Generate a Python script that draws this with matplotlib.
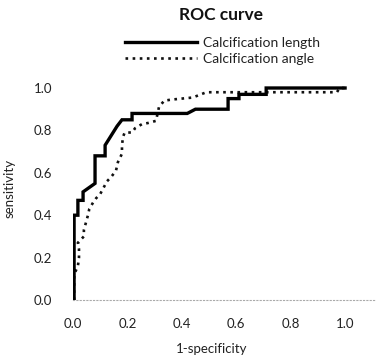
import matplotlib
matplotlib.use("Agg")
import matplotlib.pyplot as plt

plt.rcParams['font.family'] = ['Lato', 'DejaVu Sans']

length_fpr = [0.004, 0.004, 0.018, 0.018, 0.037, 0.037, 0.081, 0.081, 0.118, 0.118,
              0.162, 0.18, 0.217, 0.217, 0.42, 0.45, 0.57, 0.57, 0.61, 0.61,
              0.71, 0.71, 1.0]
length_tpr = [0.0, 0.40, 0.40, 0.47, 0.47, 0.51, 0.55, 0.68, 0.68, 0.73,
              0.82, 0.85, 0.85, 0.88, 0.88, 0.90, 0.90, 0.95, 0.95, 0.97,
              0.97, 1.0, 1.0]

angle_fpr = [0.004, 0.004, 0.018, 0.022, 0.022, 0.018, 0.04, 0.04, 0.055, 0.06, 0.074,
             0.085, 0.10, 0.125, 0.14, 0.158, 0.165, 0.18, 0.18, 0.184, 0.19,
             0.217, 0.228, 0.254, 0.276, 0.305, 0.316, 0.335, 0.36, 0.40, 0.44,
             0.49, 0.57, 0.97, 0.98, 1.0]
angle_tpr = [0.0, 0.12, 0.16, 0.20, 0.24, 0.27, 0.30, 0.33, 0.40, 0.43, 0.46,
             0.48, 0.50, 0.56, 0.58, 0.61, 0.65, 0.69, 0.73, 0.77, 0.79,
             0.79, 0.81, 0.83, 0.835, 0.845, 0.91, 0.94, 0.945, 0.95, 0.955,
             0.98, 0.98, 0.98, 1.0, 1.0]

ticks = [0.0, 0.2, 0.4, 0.6, 0.8, 1.0]
tick_labels = ["0.0", "0.2", "0.4", "0.6", "0.8", "1.0"]

fig = plt.figure(figsize=(3.79, 3.6), dpi=100)
ax = fig.add_axes([73/379, 60/360, 302/379, (300-77.4)/360])

ax.plot(angle_fpr, angle_tpr, color='#111111', lw=1.9, linestyle=(0, (1, 1.7)),
        label='Calcification angle', zorder=2)
ax.plot(length_fpr, length_tpr, color='black', lw=2.4, label='Calcification length',
        zorder=3, solid_joinstyle='miter')

ax.set_xlim(0, 1.11)
ax.set_ylim(0, 1.05)
ax.set_xticks(ticks)
ax.set_xticklabels(tick_labels)
ax.set_yticks(ticks)
ax.set_yticklabels(tick_labels)
ax.tick_params(axis='both', length=0, labelsize=9.5, colors='#222222')
ax.tick_params(axis='y', pad=15)
ax.tick_params(axis='x', pad=13)
for s in ['top', 'right', 'left']:
    ax.spines[s].set_visible(False)
ax.spines['bottom'].set_color('#aaaaaa')
ax.spines['bottom'].set_linewidth(0.8)
ax.spines['bottom'].set_linestyle((0, (1, 2)))

ax.set_xlabel('1-specificity', fontsize=9.5, color='#222222')
ax.xaxis.set_label_coords(0.46, -0.195)
ax.set_ylabel('sensitivity', fontsize=9.5, color='#222222')
ax.yaxis.set_label_coords(-0.19, 0.50)

fig.text(221/379, 1 - 15/360, 'ROC curve', ha='center', va='center',
         fontsize=12.5, fontweight='bold', color='#111111')

handles, labels = ax.get_legend_handles_labels()
leg = fig.legend(handles[::-1], labels[::-1], loc='center left',
                 bbox_to_anchor=(125/379, 1 - 51/360), frameon=False,
                 fontsize=10, handlelength=5.2, handletextpad=0.45,
                 labelspacing=0.3, borderpad=0, borderaxespad=0)
for t in leg.get_texts():
    t.set_color('#222222')

fig.savefig('out.png', dpi=100)
